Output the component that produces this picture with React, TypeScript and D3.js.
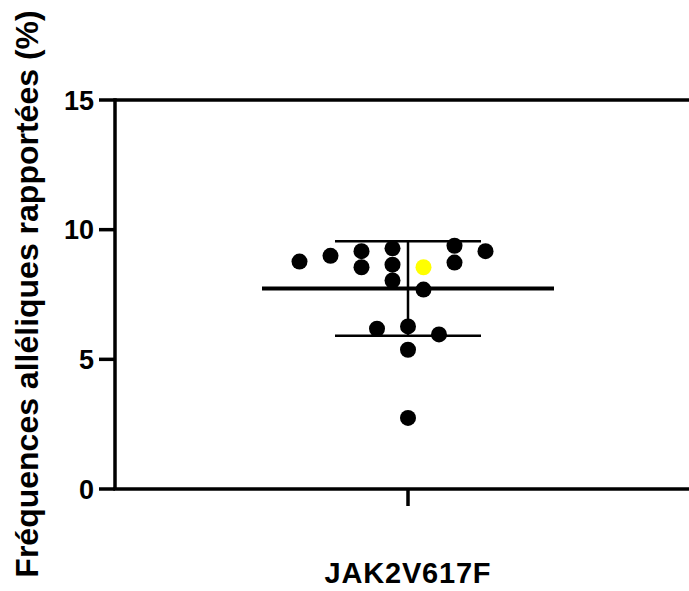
import React from 'react';
import * as d3 from 'd3';

// values
const categories = ['JAK2V617F'];
const yTicks = [0, 5, 10, 15];
const values = [8.77, 8.99, 9.17, 8.55, 9.28, 8.65, 8.04, 8.55, 7.69, 9.38, 8.73, 9.17, 6.18, 6.27, 5.96, 5.37, 2.74];
// horizontal swarm offsets, in dot widths
const offsets = [-3.5, -2.5, -1.5, -1.5, -0.5, -0.5, -0.5, 0.5, 0.5, 1.5, 1.5, 2.5, -1, 0, 1, 0, 0];
const highlight = [false, false, false, false, false, false, false, true, false, false, false, false, false, false, false, false, false];
const meanValue = 7.73;
const sdValue = 1.82;

const W = 689;
const H = 591;
const margin = { top: 100, left: 115, bottom: 102, right: -12 };
const font = 'Arial, "Liberation Sans", Helvetica, sans-serif';

const App = () => {
    const y = d3.scaleLinear().domain([0, 15]).range([H - margin.bottom, margin.top]);
    const x = d3.scaleBand().domain(categories).range([margin.left, W - margin.right]);
    const swarm = d3.scaleLinear().domain([0, 1]).range([0, 31]);
    const cx = (x(categories[0]) as number) + x.bandwidth() / 2;
    const meanHalf = 146;
    const sdHalf = 73;

    return (
        <svg width={W} height={H} style={{ position: 'absolute', left: 0, top: 0, display: 'block' }}>
            <rect width={W} height={H} fill="#fff" />

            {/* frame */}
            <line x1={margin.left} x2={W} y1={y(15)} y2={y(15)} stroke="#000" strokeWidth={3.5} />
            <line x1={margin.left - 1.75} x2={W} y1={y(0)} y2={y(0)} stroke="#000" strokeWidth={3.5} />
            <line x1={margin.left} x2={margin.left} y1={y(15) - 1.75} y2={y(0)} stroke="#000" strokeWidth={3.5} />

            {yTicks.map(t => (
                <g key={t}>
                    <line x1={margin.left - 16} x2={margin.left} y1={y(t)} y2={y(t)} stroke="#000" strokeWidth={3.5} />
                    <text x={margin.left - 21} y={y(t)} dy="0.36em" textAnchor="end"
                        fontFamily={font} fontWeight="bold" fontSize={27}>{t}</text>
                </g>
            ))}

            <line x1={cx} x2={cx} y1={y(0)} y2={y(0) + 17} stroke="#000" strokeWidth={3.5} />
            <text x={cx} y={583} textAnchor="middle" fontFamily={font} fontWeight="bold" fontSize={29}
                letterSpacing={0.8}>{categories[0]}</text>

            <text transform={`translate(38,${294}) rotate(-90)`} textAnchor="middle"
                fontFamily={font} fontWeight="bold" fontSize={32}>Fréquences alléliques rapportées (%)</text>

            {/* mean and SD */}
            <line x1={cx} x2={cx} y1={y(meanValue + sdValue)} y2={y(meanValue - sdValue)} stroke="#000" strokeWidth={2.5} />
            <line x1={cx - sdHalf} x2={cx + sdHalf} y1={y(meanValue + sdValue)} y2={y(meanValue + sdValue)} stroke="#000" strokeWidth={2.5} />
            <line x1={cx - sdHalf} x2={cx + sdHalf} y1={y(meanValue - sdValue)} y2={y(meanValue - sdValue)} stroke="#000" strokeWidth={2.5} />
            <line x1={cx - meanHalf} x2={cx + meanHalf} y1={y(meanValue)} y2={y(meanValue)} stroke="#000" strokeWidth={4} />

            {values.map((v, i) => (
                <circle key={i} cx={cx + swarm(offsets[i])} cy={y(v)} r={8}
                    fill={highlight[i] ? '#ffff00' : '#000'} />
            ))}
        </svg>
    );
};

export default App;
